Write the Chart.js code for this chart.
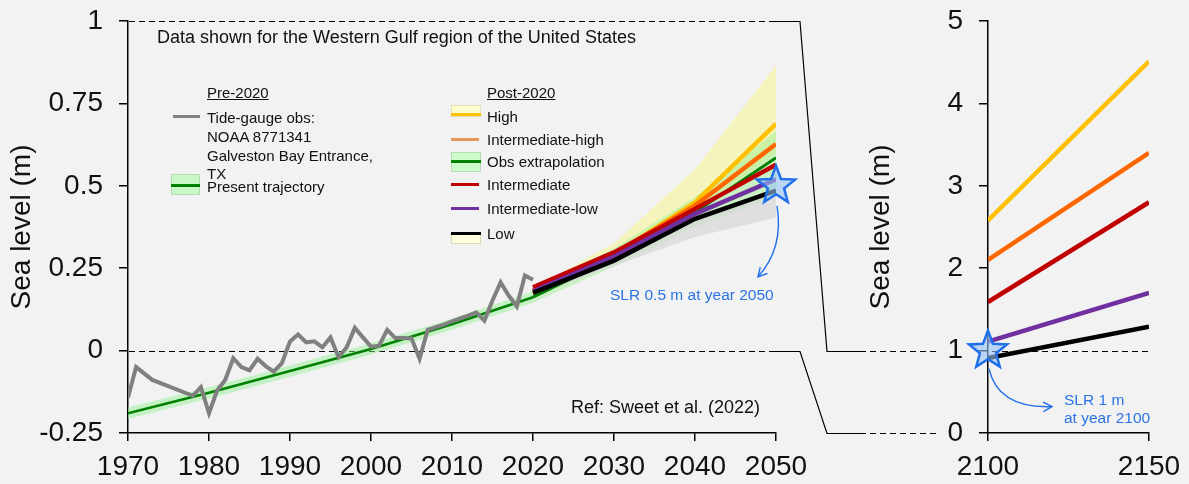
<!DOCTYPE html>
<html>
<head>
<meta charset="utf-8">
<script src="https://cdn.jsdelivr.net/npm/chart.js@4.4.1/dist/chart.umd.min.js"></script>
<style>
  body { margin: 0; background: #f2f2f2; font-family: 'Liberation Sans', Arial, sans-serif; color: #111; }
  #wrap { position: relative; width: 1189px; height: 484px; overflow: hidden; }
  canvas { position: absolute; left: 0; top: 0; }
  .t { position: absolute; white-space: nowrap; line-height: 1; z-index: 5; }
  .u { text-decoration: underline; }
  .sw { position: absolute; box-sizing: border-box; z-index: 5; }
  .blue { color: #2a74e6; }
</style>
</head>
<body>
<div id="wrap">
  <canvas id="leftChart" width="1189" height="484"></canvas>
  <canvas id="rightChart" width="1189" height="484"></canvas>

  <div class="t" style="left:157px;top:28px;font-size:18px">Data shown for the Western Gulf region of the United States</div>
  <div class="t" style="left:571px;top:398px;font-size:18px">Ref: Sweet et al. (2022)</div>

  <!-- pre-2020 legend -->
  <div class="t u" style="left:207px;top:85px;font-size:15px">Pre-2020</div>
  <div class="sw" style="left:173px;top:115px;width:27px;height:3px;background:#808080"></div>
  <div class="t" style="left:207px;top:110px;font-size:15px">Tide-gauge obs:</div>
  <div class="t" style="left:207px;top:129px;font-size:15px">NOAA 8771341</div>
  <div class="t" style="left:207px;top:148px;font-size:15px">Galveston Bay Entrance,</div>
  <div class="t" style="left:207px;top:166px;font-size:15px">TX</div>
  <div class="sw" style="left:171px;top:174px;width:29px;height:21px;background:#c8f7c8;border:1px solid #b4dcb4"></div>
  <div class="sw" style="left:171px;top:184px;width:29px;height:3px;background:#008000"></div>
  <div class="t" style="left:207px;top:179px;font-size:15px">Present trajectory</div>

  <!-- post-2020 legend -->
  <div class="t u" style="left:487px;top:85px;font-size:15px">Post-2020</div>
  <div class="sw" style="left:451px;top:105px;width:30px;height:12px;background:#ffffcc;border:1px solid #e0e0b0"></div>
  <div class="sw" style="left:451px;top:113px;width:30px;height:3px;background:#ffc000"></div>
  <div class="t" style="left:487px;top:109px;font-size:15px">High</div>
  <div class="sw" style="left:451px;top:138px;width:28px;height:3px;background:#e6975a"></div>
  <div class="t" style="left:487px;top:132px;font-size:15px">Intermediate-high</div>
  <div class="sw" style="left:451px;top:152px;width:30px;height:20px;background:#ccfccc;border:1px solid #b4dcb4"></div>
  <div class="sw" style="left:451px;top:160px;width:30px;height:3px;background:#008000"></div>
  <div class="t" style="left:487px;top:154px;font-size:15px">Obs extrapolation</div>
  <div class="sw" style="left:451px;top:183px;width:28px;height:3px;background:#c00000"></div>
  <div class="t" style="left:487px;top:177px;font-size:15px">Intermediate</div>
  <div class="sw" style="left:451px;top:207px;width:28px;height:3px;background:#7030a0"></div>
  <div class="t" style="left:487px;top:201px;font-size:15px">Intermediate-low</div>
  <div class="sw" style="left:451px;top:232px;width:30px;height:12px;background:#ffffe0;border:1px solid #dcdcb4"></div>
  <div class="sw" style="left:451px;top:232px;width:30px;height:3px;background:#000"></div>
  <div class="t" style="left:487px;top:226px;font-size:15px">Low</div>

  <!-- annotations -->
  <div class="t blue" style="left:610px;top:287px;font-size:15.5px">SLR 0.5 m at year 2050</div>
  <div class="t blue" style="left:1064px;top:392px;font-size:15.5px">SLR 1 m</div>
  <div class="t blue" style="left:1064px;top:410px;font-size:15.5px">at year 2100</div>
</div>

<script>
// ---- data ----
const leftXTicks = [1970, 1980, 1990, 2000, 2010, 2020, 2030, 2040, 2050];
const leftYTicks = [-0.25, 0, 0.25, 0.5, 0.75, 1];
const rightXTicks = [2100, 2150];
const rightYTicks = [0, 1, 2, 3, 4, 5];

// tide gauge, NOAA 8771341 (m)
const obsYears = [1970, 1971, 1973, 1978, 1979, 1980, 1981, 1982, 1983, 1984, 1985, 1986, 1987, 1988, 1989,
  1990, 1991, 1992, 1993, 1994, 1995, 1996, 1997, 1998, 1999, 2000, 2001, 2002, 2003, 2004, 2005,
  2006, 2007, 2008, 2009, 2010, 2011, 2012, 2013, 2014, 2015, 2016, 2017, 2018, 2019, 2020];
const obsLevel = [-0.142, -0.05, -0.089, -0.137, -0.111, -0.19, -0.121, -0.089, -0.023, -0.05, -0.06, -0.025, -0.047, -0.064, -0.038,
  0.028, 0.049, 0.025, 0.028, 0.01, 0.04, -0.02, 0.01, 0.069, 0.04, 0.012, 0.015, 0.063, 0.038, 0.038, 0.037,
  -0.025, 0.063, 0.071, 0.079, 0.089, 0.098, 0.106, 0.116, 0.091, 0.152, 0.207, 0.167, 0.134, 0.228, 0.215];

// present trajectory and its band
const trajYears = [1970, 1980, 1990, 2000, 2010, 2020];
const trajLevel = [-0.19, -0.128, -0.062, 0.005, 0.08, 0.162];
const trajUpper = [-0.173, -0.111, -0.045, 0.022, 0.097, 0.179];
const trajLower = [-0.207, -0.145, -0.079, -0.012, 0.063, 0.145];

// post-2020 scenarios
const projYears = [2020, 2030, 2040, 2050];
const highLevel = [0.175, 0.29, 0.45, 0.688];
const intHighLevel = [0.182, 0.295, 0.44, 0.627];
const obsExtLevel = [0.162, 0.282, 0.42, 0.585];
const intLevel = [0.192, 0.298, 0.43, 0.564];
const intLowLevel = [0.18, 0.285, 0.415, 0.52];
const lowLevel = [0.175, 0.273, 0.4, 0.485];
const highBandUpper = [0.19, 0.325, 0.55, 0.865];
const highBandLower = [0.165, 0.28, 0.42, 0.6];
const obsBandUpper = [0.18, 0.31, 0.465, 0.667];
const obsBandLower = [0.145, 0.255, 0.375, 0.47];
const lowBandUpper = [0.17, 0.27, 0.395, 0.48];
const lowBandLower = [0.165, 0.257, 0.345, 0.404];

// 2100-2150 panel
const farYears = [2100, 2150];
const farHigh = [2.58, 4.51];
const farIntHigh = [2.1, 3.4];
const farInt = [1.59, 2.8];
const farIntLow = [1.11, 1.7];
const farLow = [0.91, 1.29];

const refLevels = [1, 0];
const starLeft = { x: 2050, y: 0.5 };
const starRight = { x: 2100, y: 1 };

const FONT = "'Liberation Sans', Arial, sans-serif";
const BLUE = '#1f6feb';

function pts(xs, ys) { return xs.map((x, i) => ({ x: x, y: ys[i] })); }

function line(data, color, width, order) {
  return { data: data, borderColor: color, borderWidth: width, pointRadius: 0, fill: false, order: order, tension: 0 };
}
function band(data, color, order, fillTo) {
  return { data: data, borderWidth: 0, borderColor: 'rgba(0,0,0,0)', backgroundColor: color,
    pointRadius: 0, fill: fillTo, order: order };
}

function drawStar(ctx, cx, cy) {
  const R = 20, r = 8.5;
  ctx.save();
  ctx.beginPath();
  for (let i = 0; i < 10; i++) {
    const a = -Math.PI / 2 + i * Math.PI / 5;
    const rad = i % 2 === 0 ? R : r;
    const px = cx + rad * Math.cos(a), py = cy + rad * Math.sin(a);
    if (i === 0) ctx.moveTo(px, py); else ctx.lineTo(px, py);
  }
  ctx.closePath();
  ctx.fillStyle = 'rgba(150,195,245,0.6)';
  ctx.fill();
  ctx.lineWidth = 2.5;
  ctx.strokeStyle = BLUE;
  ctx.stroke();
  ctx.restore();
}

function drawArrow(ctx, x0, y0, cx, cy, x1, y1) {
  ctx.save();
  ctx.strokeStyle = BLUE;
  ctx.lineWidth = 1.4;
  ctx.beginPath();
  ctx.moveTo(x0, y0);
  ctx.quadraticCurveTo(cx, cy, x1, y1);
  ctx.stroke();
  const ang = Math.atan2(y1 - cy, x1 - cx);
  ctx.beginPath();
  ctx.moveTo(x1 - 10 * Math.cos(ang - 0.5), y1 - 10 * Math.sin(ang - 0.5));
  ctx.lineTo(x1, y1);
  ctx.lineTo(x1 - 10 * Math.cos(ang + 0.5), y1 - 10 * Math.sin(ang + 0.5));
  ctx.stroke();
  ctx.restore();
}

function axisX(min, max, ticks, height) {
  return {
    type: 'linear', min: min, max: max,
    afterBuildTicks: s => { s.ticks = ticks.map(v => ({ value: v })); },
    afterFit: s => { s.height = height; s.paddingLeft = 0; s.paddingRight = 0; },
    grid: { drawOnChartArea: false, drawTicks: true, tickLength: 8, color: '#000', lineWidth: 1.5 },
    border: { display: true, color: '#000', width: 1.5 },
    ticks: { color: '#111', font: { family: FONT, size: 28 }, padding: 9, maxRotation: 0, callback: v => String(v) }
  };
}
function axisY(min, max, ticks, width) {
  return {
    type: 'linear', min: min, max: max,
    afterBuildTicks: s => { s.ticks = ticks.map(v => ({ value: v })); },
    afterFit: s => { s.width = width; s.paddingTop = 0; s.paddingBottom = 0; },
    grid: { drawOnChartArea: false, drawTicks: true, tickLength: 9, color: '#000', lineWidth: 1.5 },
    border: { display: true, color: '#000', width: 1.5 },
    ticks: { color: '#111', font: { family: FONT, size: 28 }, padding: 16, callback: v => String(v) },
    title: { display: true, text: 'Sea level (m)', color: '#111', font: { family: FONT, size: 28 }, padding: { top: 5, bottom: 0 } }
  };
}

// dashed reference lines + star on the left panel
const leftDecor = {
  id: 'leftDecor',
  beforeDatasetsDraw(chart) {
    const { ctx, scales: { x, y } } = chart;
    ctx.save();
    ctx.strokeStyle = '#000';
    ctx.lineWidth = 1.2;
    ctx.setLineDash([6, 4]);
    refLevels.forEach(v => {
      const py = Math.round(y.getPixelForValue(v)) + 0.5;
      ctx.beginPath();
      ctx.moveTo(x.left + 1, py);
      ctx.lineTo(x.right - 4, py);
      ctx.stroke();
    });
    ctx.restore();
  },
  afterDatasetsDraw(chart) {
    const { ctx, scales: { x, y } } = chart;
    const sx = x.getPixelForValue(starLeft.x), sy = y.getPixelForValue(starLeft.y);
    drawStar(ctx, sx, sy);
    drawArrow(ctx, sx + 1, sy + 20, sx + 8, sy + 62, sx - 18, sy + 91);
  }
};

const leftChart = new Chart(document.getElementById('leftChart'), {
  type: 'line',
  data: {
    datasets: [
      band(pts(projYears, highBandUpper), 'rgba(244,244,188,1)', 30, '+1'),
      band(pts(projYears, highBandLower), 'rgba(0,0,0,0)', 29, false),
      band(pts(projYears, obsBandUpper), 'rgba(150,240,140,0.45)', 28, '+1'),
      band(pts(projYears, obsBandLower), 'rgba(0,0,0,0)', 27, false),
      band(pts(projYears, lowBandUpper), 'rgba(215,215,215,0.7)', 26, '+1'),
      band(pts(projYears, lowBandLower), 'rgba(0,0,0,0)', 25, false),
      band(pts(trajYears, trajUpper), 'rgba(150,240,150,0.5)', 24, '+1'),
      band(pts(trajYears, trajLower), 'rgba(0,0,0,0)', 23, false),
      line(pts(trajYears, trajLevel), '#008000', 2.5, 12),
      line(pts(obsYears, obsLevel), '#808080', 4, 11),
      line(pts(projYears, obsExtLevel), '#008000', 3, 10),
      line(pts(projYears, highLevel), '#ffc000', 4.5, 9),
      line(pts(projYears, intHighLevel), '#ff6600', 4.5, 8),
      line(pts(projYears, intLevel), '#c00000', 4.5, 7),
      line(pts(projYears, intLowLevel), '#7030a0', 4.5, 6),
      line(pts(projYears, lowLevel), '#000000', 4.5, 5)
    ]
  },
  options: {
    responsive: false,
    animation: false,
    devicePixelRatio: 1,
    layout: { padding: { left: 0, right: 413, top: 21, bottom: 0 } },
    plugins: { legend: { display: false }, tooltip: { enabled: false } },
    scales: {
      x: axisX(1970, 2050, leftXTicks, 51),
      y: axisY(-0.25, 1, leftYTicks, 128)
    }
  },
  plugins: [leftDecor]
});

// connectors, dashed line and star on the right panel
const rightDecor = {
  id: 'rightDecor',
  beforeDatasetsDraw(chart) {
    const { ctx, scales: { x, y } } = chart;
    const py = Math.round(y.getPixelForValue(1)) + 0.5;
    ctx.save();
    ctx.strokeStyle = '#000';
    ctx.lineWidth = 1.2;
    ctx.setLineDash([6, 4]);
    ctx.beginPath();
    ctx.moveTo(x.left + 4, py);
    ctx.lineTo(x.right, py);
    ctx.stroke();
    ctx.restore();
  },
  afterDatasetsDraw(chart) {
    const { ctx, scales: { x, y } } = chart;
    const sx = x.getPixelForValue(starRight.x), sy = y.getPixelForValue(starRight.y);
    drawStar(ctx, sx, sy);
    drawArrow(ctx, sx + 1, sy + 18, sx + 10, sy + 58, sx + 64, sy + 56);
  },
  afterDraw(chart) {
    const { ctx, scales: { x, y } } = chart;
    const L = leftChart.scales;
    const xEnd = L.x.getPixelForValue(2050);
    const xA = xEnd + 24, xB = x.left - 161, xC = xB + 33, xD = x.left - 52;
    ctx.save();
    ctx.strokeStyle = '#000';
    ctx.lineWidth = 1.2;
    refLevels.forEach(v => {
      const yl = Math.round(L.y.getPixelForValue(v)) + 0.5;
      const yr = Math.round(y.getPixelForValue(v)) + 0.5;
      ctx.setLineDash([]);
      ctx.beginPath();
      ctx.moveTo(xEnd - 4, yl);
      ctx.lineTo(xA, yl);
      ctx.lineTo(xB, yr);
      ctx.lineTo(xC, yr);
      ctx.stroke();
      ctx.setLineDash([6, 4]);
      ctx.beginPath();
      ctx.moveTo(xC, yr);
      ctx.lineTo(xD, yr);
      ctx.stroke();
    });
    ctx.restore();
  }
};

const rightChart = new Chart(document.getElementById('rightChart'), {
  type: 'line',
  data: {
    datasets: [
      line(pts(farYears, farHigh), '#ffc000', 4.5, 5),
      line(pts(farYears, farIntHigh), '#ff6600', 4.5, 4),
      line(pts(farYears, farInt), '#c00000', 4.5, 3),
      line(pts(farYears, farIntLow), '#7030a0', 4.5, 2),
      line(pts(farYears, farLow), '#000000', 4.5, 1)
    ]
  },
  options: {
    responsive: false,
    animation: false,
    devicePixelRatio: 1,
    layout: { padding: { left: 859, right: 40, top: 21, bottom: 0 } },
    plugins: { legend: { display: false }, tooltip: { enabled: false } },
    scales: {
      x: axisX(2100, 2150, rightXTicks, 51),
      y: axisY(0, 5, rightYTicks, 129)
    }
  },
  plugins: [rightDecor]
});
</script>
</body>
</html>
